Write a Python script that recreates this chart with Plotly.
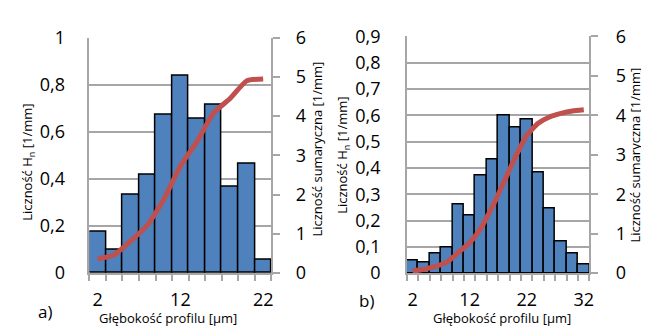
import plotly.graph_objects as go

# ---- data ----
depth_a = [2, 4, 6, 8, 10, 12, 14, 16, 18, 20, 22]
hn_a = [0.178, 0.099, 0.333, 0.418, 0.674, 0.838, 0.657, 0.714, 0.368, 0.467, 0.058]
cum_a = [0.36, 0.47, 0.82, 1.22, 1.88, 2.73, 3.35, 4.08, 4.45, 4.9, 4.95]
ticks_a = [2, 12, 22]

depth_b = [2, 4, 6, 8, 10, 12, 14, 16, 18, 20, 22, 24, 26, 28, 30, 32]
hn_b = [0.047, 0.041, 0.076, 0.096, 0.26, 0.221, 0.371, 0.432, 0.598, 0.555,
        0.585, 0.382, 0.246, 0.121, 0.076, 0.032]
cum_b = [0.056, 0.1, 0.17, 0.28, 0.52, 0.77, 1.15, 1.69, 2.31, 2.94, 3.49,
         3.8, 3.96, 4.05, 4.11, 4.14]
ticks_b = [2, 12, 22, 32]

BAR = "#4F81BD"
LINE = "#C0504D"
GRID = "#A6A6A6"
FONT = "Open Sans"
W, H = 649, 329

fig = go.Figure()

def add_panel(depth, hn, cum, xa, ya, ya2):
    fig.add_trace(go.Bar(x=depth, y=hn, marker=dict(color=BAR, line=dict(color="black", width=1.5)),
                         xaxis=xa, yaxis=ya, width=2, showlegend=False))
    fig.add_trace(go.Scatter(x=depth, y=cum, mode="lines",
                             line=dict(color=LINE, width=5, shape="spline", smoothing=0.5),
                             xaxis=xa, yaxis=ya2, showlegend=False))

add_panel(depth_a, hn_a, cum_a, "x", "y", "y2")
add_panel(depth_b, hn_b, cum_b, "x2", "y3", "y4")

def xaxis(depth, tickvals, dom, anchor):
    step = depth[1] - depth[0]
    bounds = [d - step / 2 for d in depth] + [depth[-1] + step / 2]
    return dict(domain=dom, anchor=anchor, range=[bounds[0], bounds[-1]],
                tickvals=tickvals, ticks="", showgrid=False, zeroline=False,
                showline=True, linecolor=GRID, linewidth=1.5,
                tickfont=dict(size=18, color="black", family=FONT), ticklabelstandoff=9,
                minor=dict(tickvals=bounds, ticks="outside", ticklen=6, tickcolor=GRID,
                           tickwidth=1.5, showgrid=False))

def yleft(rng, dtick, dom, anchor, standoff):
    return dict(domain=dom, anchor=anchor, range=rng, dtick=dtick, ticks="",
                showgrid=True, gridcolor=GRID, gridwidth=1.5, zeroline=False,
                showline=True, linecolor=GRID, linewidth=1.5,
                tickfont=dict(size=18, color="black", family=FONT), ticklabelstandoff=standoff)

def yright(rng, overlay, anchor, standoff):
    return dict(overlaying=overlay, anchor=anchor, side="right", range=rng, dtick=1,
                ticks="outside", ticklen=7, tickcolor=GRID, tickwidth=1.5,
                showgrid=False, zeroline=False, showline=True, linecolor=GRID, linewidth=1.5,
                tickfont=dict(size=18, color="black", family=FONT), ticklabelstandoff=standoff)

ax_a = [82 / W, 265.5 / W]
ax_b = [402 / W, 586 / W]
ay_a = [(H - 272) / H, (H - 18) / H]
ay_b = [(H - 272) / H, (H - 16.7) / H]

fig.update_layout(
    width=W, height=H, margin=dict(l=0, r=0, t=0, b=0),
    paper_bgcolor="white", plot_bgcolor="white",
    separators=", ", bargap=0,
    font=dict(family=FONT, color="black"),
    xaxis=xaxis(depth_a, ticks_a, ax_a, "y"),
    yaxis=yleft([0, 1], 0.2, ay_a, "x", 19),
    yaxis2=yright([0, 6], "y", "x", 12),
    xaxis2=xaxis(depth_b, ticks_b, ax_b, "y3"),
    yaxis3=yleft([0, 0.9], 0.1, ay_b, "x2", 21),
    yaxis4=yright([0, 6], "y3", "x2", 14),
)

def ann(text, x, y, size, angle=0):
    fig.add_annotation(text=text, x=x / W, y=1 - y / H, xref="paper", yref="paper",
                       showarrow=False, textangle=angle, xanchor="center", yanchor="middle",
                       font=dict(size=size, family=FONT, color="black"))

ann("Liczność H<sub>n</sub> [1/mm]", 20, 152, 13, -90)
ann("Liczność sumaryczna [1/mm]", 311, 138, 13, -90)
ann("Głębokość profilu [µm]", 161, 320, 13)
ann("a)", 37, 313, 17)

ann("Liczność H<sub>n</sub> [1/mm]", 338, 145, 13, -90)
ann("Liczność sumaryczna [1/mm]", 632, 145, 13, -90)
ann("Głębokość profilu [µm]", 498, 320, 13)
ann("b)", 361, 302, 17)

fig.write_html("out.html")
